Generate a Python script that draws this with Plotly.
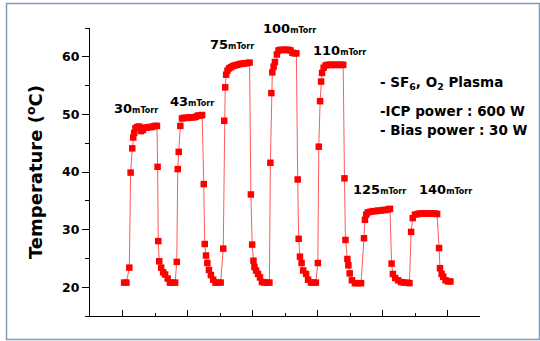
import plotly.graph_objects as go

# time (arbitrary units, no tick labels in reference) and temperature (°C)
time = [
    20.5, 21.2, 22.1, 22.5, 23.0, 23.3, 23.6, 24.0, 24.5, 25.1, 25.7, 26.3, 26.9, 27.5, 28.2, 28.8, 29.4, 30.0, 30.6,
    30.8, 31.0, 31.3, 31.9, 32.5, 33.1, 33.9, 34.6, 35.4, 36.2,
    36.7, 37.0, 37.3, 37.8, 38.3, 38.9, 39.5, 40.2, 40.8, 41.4, 42.0, 42.6, 43.2, 43.9, 44.5,
    45.0, 45.3, 45.7, 46.1, 46.6, 47.2, 47.9, 48.6, 49.4, 50.2,
    51.0, 51.3, 51.6, 51.9, 52.3, 52.8, 53.4, 54.0, 54.6, 55.2, 55.9, 56.5, 57.1, 57.7, 58.3, 59.1,
    59.5, 59.9, 60.3, 60.6, 61.1, 61.7, 62.3, 62.9, 63.7, 64.5, 65.2,
    65.5, 65.8, 66.1, 66.5, 66.9, 67.5, 68.0, 68.6, 69.2, 69.9, 70.5, 71.1, 71.7, 72.3, 72.9, 73.5,
    73.9, 74.2, 74.6, 75.1, 75.6, 76.5, 77.1, 78.0, 78.8, 79.5,
    80.1, 80.4, 80.8, 81.1, 81.4, 81.9, 82.5, 83.1, 83.7, 84.3, 84.9, 85.5, 86.2, 86.8, 87.4, 87.9,
    88.3, 88.6, 89.2, 89.5, 89.9, 90.6, 91.5, 92.5, 93.4,
    94.3, 94.6, 95.0, 95.5, 96.3, 97.1, 97.9, 98.6, 99.4, 100.2, 100.9, 101.7, 102.3,
    102.8, 103.2, 103.9, 104.8, 105.7, 106.6, 107.5, 108.3,
    108.8, 109.3, 110.0, 110.8, 111.5, 112.3, 113.1, 113.9, 114.6, 115.4, 116.2, 116.8,
    117.4, 117.7, 118.2, 118.7, 119.4, 120.2, 120.9,
]
temperature = [
    20.8, 20.8, 23.4, 39.9, 44.1, 46.0, 46.8, 47.6, 47.8, 47.9, 47.1, 47.3, 47.7, 47.7, 47.8, 47.8, 47.9, 48.0, 48.0,
    40.9, 28.0, 24.5, 23.4, 22.6, 22.2, 21.5, 20.8, 20.8, 20.8,
    24.4, 40.5, 43.5, 48.0, 49.3, 49.4, 49.4, 49.4, 49.5, 49.5, 49.5, 49.6, 49.8, 49.8, 49.9,
    37.9, 27.5, 25.5, 24.2, 23.0, 22.1, 21.3, 20.8, 20.8, 20.8,
    26.7, 48.9, 54.7, 56.9, 57.6, 58.0, 58.2, 58.4, 58.5, 58.6, 58.7, 58.8, 58.8, 58.9, 58.9, 59.0,
    36.1, 27.4, 24.6, 23.5, 22.9, 22.3, 21.7, 20.9, 20.8, 20.8, 20.8,
    41.6, 53.7, 57.3, 58.3, 59.1, 60.4, 61.1, 61.2, 61.2, 61.2, 61.2, 61.2, 61.1, 60.7, 60.6, 60.6,
    38.7, 28.4, 25.3, 24.2, 22.9, 22.3, 21.3, 20.8, 20.8, 20.8,
    24.2, 44.4, 52.3, 55.7, 57.2, 58.1, 58.5, 58.6, 58.6, 58.6, 58.6, 58.6, 58.6, 58.6, 58.6, 58.6,
    38.9, 28.2, 24.9, 23.8, 22.4, 21.2, 20.7, 20.7, 20.7,
    28.5, 31.7, 32.6, 33.0, 33.1, 33.2, 33.2, 33.3, 33.3, 33.4, 33.4, 33.5, 33.6,
    24.1, 22.3, 21.6, 21.2, 20.9, 20.8, 20.8, 20.7,
    29.6, 32.0, 32.6, 32.7, 32.8, 32.8, 32.8, 32.8, 32.8, 32.8, 32.8, 32.7,
    26.8, 23.3, 22.3, 21.8, 21.2, 21.0, 21.0,
]

pressure_labels = ["30", "43", "75", "100", "110", "125", "140"]
y_ticks = [20, 30, 40, 50, 60]
info_lines = ["- SF<sub>6</sub>, O<sub>2</sub> Plasma", "-ICP power : 600 W", "- Bias power : 30 W"]

FONT = "DejaVu Sans"

fig = go.Figure()
fig.add_trace(go.Scatter(
    x=time, y=temperature, mode="lines+markers",
    line=dict(color="rgba(255,50,50,0.8)", width=1),
    marker=dict(symbol="square", size=6.5, color="#ff0000", line=dict(width=0)),
    showlegend=False, hoverinfo="skip",
))

# label positions (paper coords): left x, vertical middle
label_pos = [(0.0556, 0.722), (0.200, 0.745), (0.3026, 0.944), (0.4374, 0.997),
             (0.5659, 0.921), (0.6692, 0.440), (0.8377, 0.440)]
annotations = []
for lab, (xp, yp) in zip(pressure_labels, label_pos):
    annotations.append(dict(
        x=xp, y=yp, xref="paper", yref="paper", xanchor="left", yanchor="middle",
        text=f"<b>{lab}<span style='font-size:8px'>mTorr</span></b>",
        showarrow=False, font=dict(family=FONT, size=13, color="black"),
    ))
info_pos = [0.808, 0.7135, 0.6458]
for line, yp in zip(info_lines, info_pos):
    annotations.append(dict(
        x=0.7392, y=yp, xref="paper", yref="paper", xanchor="left", yanchor="middle",
        text=f"<b>{line}</b>", showarrow=False,
        font=dict(family=FONT, size=13.5, color="black"),
    ))

fig.update_layout(
    width=540, height=341,
    margin=dict(l=90, r=60, t=28, b=25, pad=0),
    paper_bgcolor="white", plot_bgcolor="white",
    annotations=annotations,
    shapes=[dict(type="rect", xref="paper", yref="paper",
                 x0=-0.2141, x1=1.1526, y0=-0.0816, y1=1.0851,
                 line=dict(color="#7f9db9", width=1.5))],
    xaxis=dict(range=[10, 130], showgrid=False, zeroline=False,
               showline=True, linecolor="black", linewidth=1.3,
               ticks="inside", tick0=20, dtick=20, ticklen=6, tickwidth=1.2, tickcolor="black",
               showticklabels=False,
               minor=dict(ticks="inside", tick0=10, dtick=10, ticklen=3, tickwidth=1, tickcolor="black")),
    yaxis=dict(range=[15, 65], showgrid=False, zeroline=False,
               showline=True, linecolor="black", linewidth=1.3,
               ticks="outside", tickvals=y_ticks, ticklen=7, tickwidth=1.2, tickcolor="black",
               tickfont=dict(family=FONT, size=12.5, color="black", weight="bold"),
               minor=dict(ticks="outside", tick0=15, dtick=5, ticklen=4, tickwidth=1, tickcolor="black"),
               title=dict(text="<b>Temperature (<sup>o</sup>C)</b>", standoff=14,
                          font=dict(family=FONT, size=18, color="black"))),
)

fig.write_html("out.html", config={"displayModeBar": False},
               post_script="document.body.style.margin='0';document.body.style.overflow='hidden';")
